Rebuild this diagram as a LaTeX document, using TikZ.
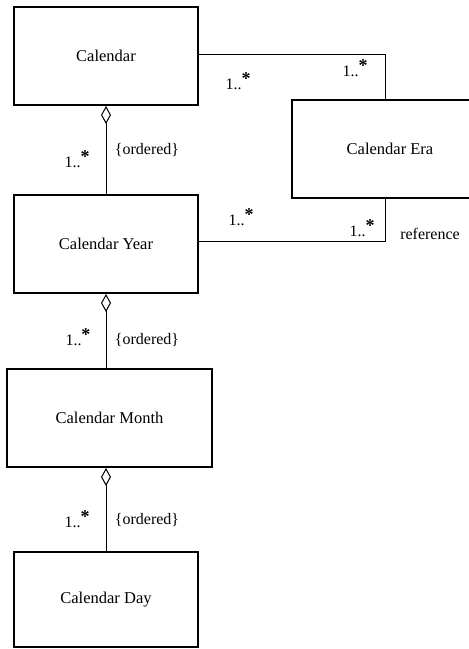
\documentclass[tikz,border=0pt]{standalone}
\usepackage{fontspec}
\setmainfont{Liberation Serif}
\usetikzlibrary{arrows.meta}
\newcommand\mult{1..\raisebox{0.6ex}{\fontsize{18}{19}\selectfont\bfseries *}}
\tikzset{
  classbox/.style={draw, line width=2pt, rectangle, inner sep=0pt,
    font=\fontsize{16.5}{19}\selectfont},
  assoc/.style={line width=1pt},
  aggr/.style={line width=1pt, {Diamond[open,length=18pt,width=10pt,line width=1pt]}-},
  lbl/.style={inner sep=0pt, font=\fontsize{16}{19}\selectfont}
}
\begin{document}
\begin{tikzpicture}[x=1pt,y=-1pt]
\useasboundingbox (0,0) rectangle (469,649);
\clip (0,0) rectangle (469,649);

% classes
\node[classbox, minimum width=184pt, minimum height=98pt] (cal)   at (106,56)  {Calendar};
\node[classbox, minimum width=196pt, minimum height=98pt] (era)   at (390,149) {Calendar Era};
\node[classbox, minimum width=184pt, minimum height=98pt] (year)  at (106,244) {Calendar Year};
\node[classbox, minimum width=205pt, minimum height=98pt] (month) at (109.5,418) {Calendar Month};
\node[classbox, minimum width=184pt, minimum height=95pt] (day)   at (106,599.5) {Calendar Day};

% associations with the era
\draw[assoc] ([yshift=2pt]cal.east) -| ([xshift=-5pt]era.north);
\draw[assoc] ([yshift=3pt]year.east) -| ([xshift=-5pt]era.south);

% ordered aggregations
\draw[aggr] (cal.south) -- (year.north);
\draw[aggr] (year.south) -- (year.south |- month.north);
\draw[aggr] (year.south |- month.south) -- (year.south |- day.north);

% multiplicities and constraints
\node[lbl] (m1) at (238,81)  {\mult};
\node[lbl] (m2) at (355,68)  {\mult};
\node[lbl] (m3) at (241,217) {\mult};
\node[lbl] (m4) at (362,228) {\mult};
\node[lbl] (rf) at (430,234) {reference};

\node[lbl] (m5) at (77,159)  {\mult};
\node[lbl] (o1) at (147,150) {\{ordered\}};
\node[lbl] (m6) at (78,337)  {\mult};
\node[lbl] (o2) at (147,340) {\{ordered\}};
\node[lbl] (m7) at (77,519)  {\mult};
\node[lbl] (o3) at (147,520) {\{ordered\}};
\end{tikzpicture}
\end{document}
